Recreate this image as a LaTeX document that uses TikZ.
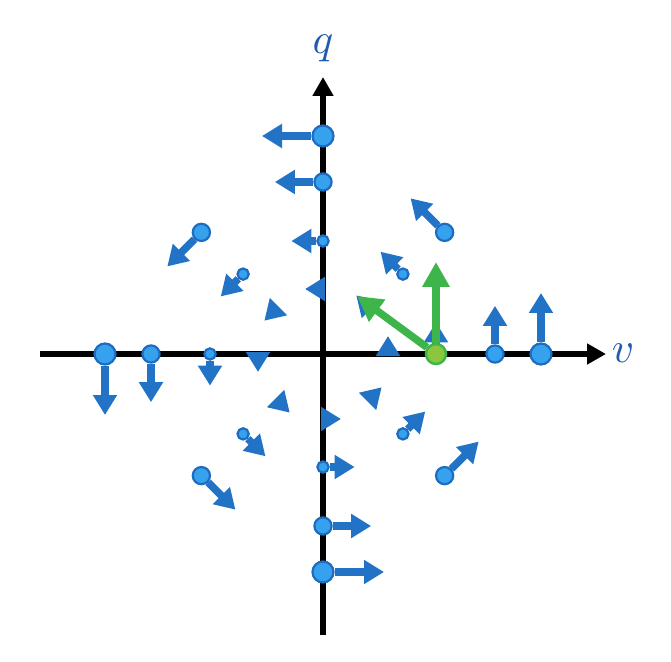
\documentclass[tikz,border=0pt]{standalone}
\usepackage{graphicx}
\usepackage{tikz}
\usetikzlibrary{arrows.meta,calc}
\definecolor{fieldblue}{HTML}{2272C6}
\definecolor{dotblue}{HTML}{36A2EE}
\definecolor{dotrim}{HTML}{1E6CC2}
\definecolor{flowgreen}{HTML}{3DB54A}
\definecolor{flowlime}{HTML}{8CC63F}
\definecolor{labelblue}{HTML}{1F5CB0}
\newcommand{\biglab}[1]{\scalebox{4.3}{$#1$}}

\begin{document}
\begin{tikzpicture}[x=1pt, y=1pt, >=Latex]
  \tikzset{axis/.style={line width=6pt, -{Triangle[length=19pt, width=20pt]}},
           vec/.style={draw=fieldblue, line width=7.5pt, -{Triangle[length=20pt, width=23pt]}},
           dot/.style={circle, draw=dotrim, fill=dotblue, line width=2.2pt, inner sep=0},
           gvec/.style={draw=flowgreen, line width=7.5pt, -{Triangle[length=25pt, width=26pt]}},
           gdot/.style={circle, draw=flowgreen, fill=flowlime, line width=2.5pt, inner sep=0, minimum size=20pt},
           axl/.style={text=labelblue, inner sep=0}}
  \useasboundingbox (-323,-307) rectangle (348,354);
  % axes
  \coordinate (vL) at (-283,0); \coordinate (vR) at (283,0);
  \coordinate (qB) at (0,-281); \coordinate (qT) at (0,277);
  \draw[axis] (vL) -- (vR);
  \draw[axis] (qB) -- (qT);
  \node[axl] (vlab) at (300,1) {\biglab{v}};
  \node[axl] (qlab) at (0,306) {\biglab{q}};
  % inner ring: heads only
  \foreach \a in {0,45,...,315} {
    \coordinate (p65-\a) at (\a:65);
    \coordinate (t65-\a) at ($(p65-\a)+(\a+90:18)$);
    \draw[vec] (p65-\a) -- (t65-\a);
  }
  % middle rings
  \foreach \r in {113,172} {
    \foreach \a in {0,45,...,315} {
      \node[dot, minimum size=\r*0.1pt] (p\r-\a) at (\a:\r) {};
      \coordinate (t\r-\a) at ($(p\r-\a.center)+(\a+90:0.28*\r)$);
      \draw[vec] (p\r-\a) -- (t\r-\a);
    }
  }
  % outer ring, on the axes only
  \foreach \a in {0,90,180,270} {
    \node[dot, minimum size=21pt] (p218-\a) at (\a:218) {};
    \coordinate (t218-\a) at ($(p218-\a.center)+(\a+90:61)$);
    \draw[vec] (p218-\a) -- (t218-\a);
  }
  % green point
  \node[gdot] (g) at (113,0) {};
  \coordinate (gUp) at (113,92);
  \coordinate (gTilt) at (34,58);
  \draw[gvec] (g) -- (gUp);
  \draw[gvec] (g) -- (gTilt);
\end{tikzpicture}
\end{document}
